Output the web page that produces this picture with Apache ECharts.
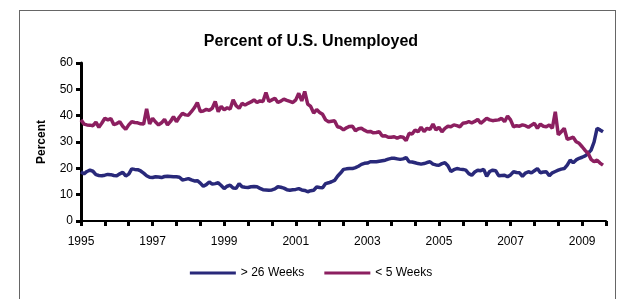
<!DOCTYPE html>
<html>
<head>
<meta charset="utf-8">
<script src="https://cdn.jsdelivr.net/npm/echarts@6/dist/echarts.min.js"></script>
<style>
  html, body { margin: 0; padding: 0; background: #fff; }
  #frame {
    position: absolute; left: 19px; top: 10px; width: 597px; height: 300px;
    border: 1px solid #666; box-sizing: border-box;
  }
  #chart { position: absolute; left: 0; top: 0; width: 622px; height: 299px; }
</style>
</head>
<body>
<div id="frame"></div>
<div id="chart"></div>
<script>
// monthly, Jan 1995 .. Aug 2009
const startYear = 1995;
const monthCount = 177; // axis runs one month past the last point

// > 26 weeks, percent of unemployed
const longTerm = [
  18.7, 17.9, 18.8, 19.3, 18.9, 17.6, 17.3, 17.2, 17.4, 17.7, 17.6, 17.3,
  17.2, 17.9, 18.5, 17.1, 17.8, 19.8, 19.6, 19.5, 19.0, 18.2, 17.2, 16.6,
  16.5, 16.8, 16.7, 16.5, 16.9, 17.0, 16.9, 16.8, 16.8, 16.6, 15.6, 15.8,
  16.1, 15.6, 15.2, 15.3, 14.4, 13.2, 13.8, 14.8, 14.0, 14.2, 14.5, 13.5,
  12.3, 13.2, 13.6, 12.5, 12.4, 14.2, 13.0, 12.8, 12.7, 13.0, 13.1, 13.0,
  12.4, 11.9, 11.8, 11.7, 11.8, 12.2, 13.0, 12.8, 12.5, 11.9, 11.7, 11.9,
  12.0, 12.3, 11.8, 11.6, 11.1, 11.5, 11.7, 12.9, 12.7, 12.6, 14.2, 14.5,
  14.9, 15.4, 17.0, 18.2, 19.6, 19.8, 19.9, 19.9, 20.3, 20.8, 21.5, 21.9,
  22.0, 22.5, 22.5, 22.5, 22.7, 22.9, 23.1, 23.5, 23.8, 23.8, 23.6, 23.4,
  23.6, 24.1, 22.5, 22.4, 22.1, 21.8, 21.6, 21.8, 22.2, 22.5, 21.6, 21.3,
  21.2, 21.8, 22.1, 21.0, 18.8, 19.5, 19.9, 19.7, 19.6, 19.3, 18.0, 17.4,
  18.6, 19.3, 19.1, 19.6, 17.0, 18.8, 19.3, 19.1, 17.2, 17.3, 17.4, 16.8,
  17.5, 18.7, 18.4, 18.3, 17.0, 18.2, 18.7, 18.3, 19.1, 19.9, 18.3, 18.6,
  18.7, 17.2, 18.3, 18.8, 19.3, 19.7, 19.9, 21.2, 23.1, 22.1, 23.2, 23.8,
  24.2, 24.7, 25.7, 26.9, 30.0, 35.2, 34.6, 33.9
];

// < 5 weeks, percent of unemployed
const shortTerm = [
  38.4, 36.8, 36.5, 36.4, 36.2, 37.5, 35.6, 37.2, 39.0, 38.4, 38.9, 36.6,
  37.0, 37.7, 36.0, 34.8, 36.5, 37.7, 37.4, 37.3, 36.9, 36.8, 42.6, 36.9,
  39.0, 37.6, 36.5, 37.3, 38.6, 36.5, 37.8, 39.6, 37.7, 39.5, 40.9, 40.3,
  40.2, 41.5, 43.0, 45.0, 41.6, 41.8, 42.4, 42.0, 42.8, 45.4, 41.5, 43.5,
  42.2, 43.0, 42.5, 46.0, 43.8, 42.8, 44.7, 44.0, 44.7, 45.2, 46.0, 45.0,
  45.6, 45.4, 48.8, 45.4, 46.0, 46.6, 45.0, 45.5, 46.3, 45.8, 45.4, 45.0,
  46.0, 48.5, 45.6, 49.2, 44.4, 43.5, 41.0, 42.3, 41.2, 40.5, 38.4, 37.7,
  37.9, 38.1, 35.8, 35.5, 34.6, 35.4, 35.9, 36.0, 34.3, 35.0, 35.2, 34.5,
  33.9, 34.0, 33.5, 33.6, 33.9, 32.3, 32.4, 31.8, 31.8, 32.0, 31.4, 32.0,
  31.8, 30.5, 33.3, 33.0, 34.6, 33.9, 35.6, 34.0, 35.2, 34.8, 36.8, 34.6,
  35.6, 33.9, 35.2, 36.0, 35.8, 36.5, 36.2, 35.8, 37.1, 37.3, 37.7, 37.3,
  37.8, 38.6, 37.1, 38.0, 39.0, 38.4, 38.1, 38.3, 38.4, 39.0, 37.7, 39.9,
  38.4, 35.8, 36.2, 36.0, 36.5, 36.2, 35.6, 36.4, 37.1, 35.2, 36.8, 36.0,
  35.8, 36.5, 35.2, 41.5, 32.7, 33.9, 35.2, 31.0, 31.4, 31.8, 30.1, 29.5,
  28.2, 26.8, 25.7, 23.4, 22.5, 23.1, 22.0, 21.2
];

const months = [];
for (let i = 0; i < monthCount; i++) {
  const y = startYear + Math.floor(i / 12);
  const m = (i % 12) + 1;
  months.push(y + '-' + (m < 10 ? '0' + m : m));
}

const chart = echarts.init(document.getElementById('chart'));
chart.setOption({
  animation: false,
  textStyle: { fontFamily: 'Liberation Sans, Arial, sans-serif' },
  title: {
    text: 'Percent of U.S. Unemployed',
    left: 'center',
    top: 29,
    textStyle: { fontSize: 16, fontWeight: 'bold', color: '#000' }
  },
  legend: {
    bottom: 15,
    left: 'center',
    icon: 'rect',
    itemWidth: 46,
    itemHeight: 3,
    itemGap: 20,
    textStyle: { fontSize: 12, color: '#000' },
    data: ['> 26 Weeks', '< 5 Weeks']
  },
  grid: { left: 81, right: 16, top: 63, bottom: 78 },
  xAxis: {
    type: 'category',
    data: months,
    boundaryGap: false,
    axisLine: { lineStyle: { color: '#000', width: 2 } },
    axisTick: {
      length: 5,
      lineStyle: { color: '#000', width: 3 },
      interval: function (idx) { return idx % 8 === 0; }
    },
    axisLabel: {
      interval: function (idx) { return idx % 24 === 0; },
      formatter: function (v) { return v.slice(0, 4); },
      fontSize: 12,
      color: '#000',
      margin: 15
    },
    splitLine: { show: false }
  },
  yAxis: {
    type: 'value',
    min: 0,
    max: 60,
    interval: 10,
    name: 'Percent',
    nameLocation: 'middle',
    nameGap: 33,
    nameRotate: 90,
    nameTextStyle: { fontSize: 12, fontWeight: 'bold', color: '#000' },
    axisLine: { show: true, lineStyle: { color: '#000', width: 3 } },
    axisTick: { show: true, length: 5, lineStyle: { color: '#000', width: 3 } },
    axisLabel: { fontSize: 12, color: '#000', margin: 8 },
    splitLine: { show: false }
  },
  series: [
    {
      name: '> 26 Weeks',
      type: 'line',
      data: longTerm,
      showSymbol: false,
      lineStyle: { width: 3.5, color: '#29297a' },
      itemStyle: { color: '#29297a' }
    },
    {
      name: '< 5 Weeks',
      type: 'line',
      data: shortTerm,
      showSymbol: false,
      lineStyle: { width: 3.5, color: '#8c1f60' },
      itemStyle: { color: '#8c1f60' }
    }
  ]
});
</script>
</body>
</html>
